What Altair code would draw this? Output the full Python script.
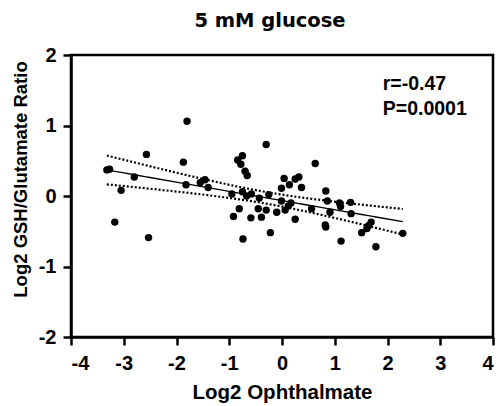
import altair as alt
import numpy as np
import pandas as pd

# Data
x_vals = [-3.32, -3.27, -3.05, -3.17, -2.80, -2.57, -2.53, -1.87, -1.80, -1.82,
          -1.55, -1.46, -1.40, -0.95, -0.84, -0.75, -0.78, -0.70, -0.66, -0.75,
          -0.67, -0.58, -0.43, -0.25, -0.30, -0.81, -0.92, -0.59, -0.39, -0.45,
          -0.30, -0.10, -0.22, -0.74, 0.04, 0.14, 0.25, 0.32, -0.01, 0.37,
          -0.01, 0.17, 0.12, 0.06, 0.25, 0.63, 0.83, 0.86, 0.56, 0.91,
          1.09, 1.11, 1.30, 1.31, 0.82, 0.83, 1.69, 1.64, 1.61, 1.51,
          2.29, 1.12, 1.78]
y_vals = [0.37, 0.38, 0.08, -0.37, 0.27, 0.59, -0.59, 0.48, 1.06, 0.16,
          0.19, 0.23, 0.12, 0.03, 0.51, 0.57, 0.45, 0.35, 0.29, 0.06,
          0.00, 0.03, -0.03, 0.02, 0.73, -0.18, -0.29, -0.31, -0.30, -0.18,
          -0.20, -0.23, -0.52, -0.61, 0.25, 0.16, 0.24, 0.27, 0.11, 0.12,
          -0.07, -0.10, -0.14, -0.20, -0.33, 0.46, 0.07, -0.07, -0.18, -0.23,
          -0.10, -0.15, -0.09, -0.25, -0.41, -0.44, -0.37, -0.42, -0.46, -0.52,
          -0.53, -0.64, -0.72]

x_ticks = [-4, -3, -2, -1, 0, 1, 2, 3, 4]
y_ticks = [-2, -1, 0, 1, 2]
stat_labels = ["r=-0.47", "P=0.0001"]
stat_x = [1.91, 1.91]
stat_y = [1.51, 1.15]

df = pd.DataFrame({"x": x_vals, "y": y_vals})

# Linear regression with 95% confidence band of the mean
xa = np.array(x_vals)
ya = np.array(y_vals)
n = len(xa)
slope, intercept = np.polyfit(xa, ya, 1)
resid = ya - (slope * xa + intercept)
s = np.sqrt(np.sum(resid ** 2) / (n - 2))
sxx = np.sum((xa - xa.mean()) ** 2)
t_crit = 2.0
xs = np.sort(xa)
fit = slope * xs + intercept
se = s * np.sqrt(1.0 / n + (xs - xa.mean()) ** 2 / sxx)
fit_df = pd.DataFrame({"x": xs, "fit": fit, "lo": fit - t_crit * se, "hi": fit + t_crit * se})

stat_df = pd.DataFrame({"label": stat_labels, "x": stat_x, "y": stat_y})

FONT = "Liberation Sans"
xscale = alt.Scale(domain=[-4, 4], nice=False, zero=False)
yscale = alt.Scale(domain=[-2, 2], nice=False, zero=False)

xaxis = alt.Axis(values=x_ticks, title="Log2 Ophthalmate", labelExpr="'' + datum.value",
                 labelBaseline="alphabetic", labelPadding=24,
                 titleBaseline="alphabetic", titleY=61)
yaxis = alt.Axis(values=y_ticks, title="Log2 GSH/Glutamate Ratio", labelExpr="'' + datum.value",
                 labelPadding=7, titleAngle=-90, titleBaseline="alphabetic",
                 titleAlign="center", titleX=-45, titleY=124, titleFontSize=18.5)

points = alt.Chart(df).mark_circle(size=55, color="black", opacity=1).encode(
    x=alt.X("x:Q", scale=xscale, axis=xaxis),
    y=alt.Y("y:Q", scale=yscale, axis=yaxis),
)

fit_line = alt.Chart(fit_df).mark_line(color="black", strokeWidth=1.3).encode(
    x=alt.X("x:Q", scale=xscale), y=alt.Y("fit:Q", scale=yscale))
hi_line = alt.Chart(fit_df).mark_line(color="black", strokeWidth=2.2, strokeDash=[2, 2]).encode(
    x=alt.X("x:Q", scale=xscale), y=alt.Y("hi:Q", scale=yscale))
lo_line = alt.Chart(fit_df).mark_line(color="black", strokeWidth=2.2, strokeDash=[2, 2]).encode(
    x=alt.X("x:Q", scale=xscale), y=alt.Y("lo:Q", scale=yscale))

stats = alt.Chart(stat_df).mark_text(align="left", baseline="alphabetic", fontSize=19.5,
                                     fontWeight="bold", font=FONT, color="black").encode(
    x=alt.X("x:Q", scale=xscale), y=alt.Y("y:Q", scale=yscale), text="label:N")

chart = alt.layer(lo_line, hi_line, fit_line, points, stats).properties(
    width=422, height=282,
    padding={"left": 71, "top": 55, "right": 6, "bottom": 69},
    autosize=alt.AutoSizeParams(type="none"),
    title=alt.TitleParams("5 mM glucose", font="DejaVu Sans", fontSize=19.5, fontWeight="bold",
                          color="black", anchor="middle", frame="group", dx=-12,
                          baseline="alphabetic", offset=-1),
).configure_axis(
    grid=False, domainColor="black", domainWidth=2.5, tickColor="black", tickWidth=2.5,
    tickSize=8, labelFont=FONT, labelFontSize=20, labelFontWeight="bold", labelColor="black",
    titleFont=FONT, titleFontSize=20.5, titleFontWeight="bold", titleColor="black",
).configure_view(stroke="black", strokeWidth=2.5)

chart.save("out.html", embed_options={"renderer": "svg", "actions": False})
